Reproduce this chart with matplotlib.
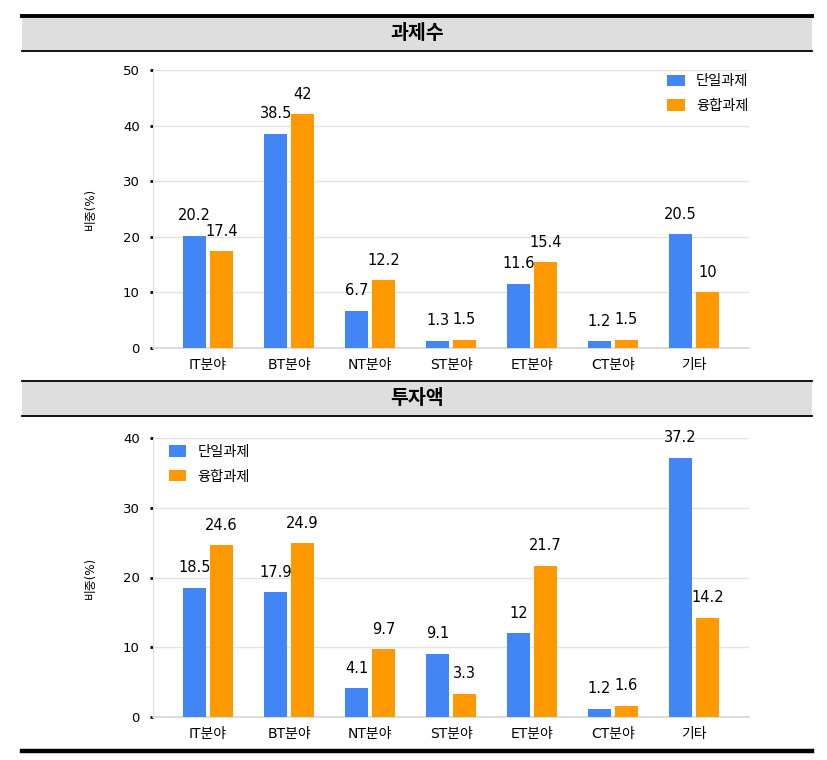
import numpy as np
import matplotlib
matplotlib.use("Agg")
import matplotlib.pyplot as plt
from matplotlib.patches import Rectangle
from matplotlib.lines import Line2D

plt.rcParams['font.family'] = ['DejaVu Sans', 'Noto Sans CJK KR']

categories = ['IT분야', 'BT분야', 'NT분야', 'ST분야', 'ET분야', 'CT분야', '기타']
series_names = ['단일과제', '융합과제']

# 과제수 (%)
count_single = [20.2, 38.5, 6.7, 1.3, 11.6, 1.2, 20.5]
count_fusion = [17.4, 42, 12.2, 1.5, 15.4, 1.5, 10]

# 투자액 (%)
invest_single = [18.5, 17.9, 4.1, 9.1, 12, 1.2, 37.2]
invest_fusion = [24.6, 24.9, 9.7, 3.3, 21.7, 1.6, 14.2]

blue = '#4285F4'
orange = '#FF9900'

W, H = 827, 760
fig = plt.figure(figsize=(W / 100, H / 100), dpi=100)


def fx(px):
    return px / W


def fy(py):
    return 1 - py / H


# -------------------------------------
# title bars and border lines
def title_bar(y_top, y_bot, text, top_lw):
    fig.patches.append(Rectangle((fx(22), fy(y_bot)), fx(812) - fx(22), fy(y_top) - fy(y_bot),
                                 transform=fig.transFigure, facecolor='#dedede', edgecolor='none'))
    fig.add_artist(Line2D([fx(22), fx(812)], [fy(y_top), fy(y_top)], color='black', lw=top_lw))
    fig.add_artist(Line2D([fx(22), fx(812)], [fy(y_bot), fy(y_bot)], color='black', lw=1.3))
    fig.text(fx(417), fy((y_top + y_bot) / 2), text, ha='center', va='center',
             fontsize=14, fontweight='bold', family=['Noto Sans CJK KR'])


title_bar(16, 51, '과제수', 2.8)
title_bar(381, 416, '투자액', 1.3)
fig.add_artist(Line2D([fx(22), fx(812)], [fy(751), fy(751)], color='black', lw=3.2))


# -------------------------------------
def draw_panel(rect, single, fusion, ymax, legend_anchor):
    ax = fig.add_axes(rect)
    x = np.arange(len(categories))
    b1 = ax.bar(x - 0.165, single, width=0.29, color=blue, label=series_names[0], zorder=3)
    b2 = ax.bar(x + 0.165, fusion, width=0.29, color=orange, label=series_names[1], zorder=3)

    for bars, vals in [(b1, single), (b2, fusion)]:
        for b, v in zip(bars, vals):
            ax.annotate(f'{v:g}', (b.get_x() + b.get_width() / 2, v), xytext=(0, 9),
                        textcoords='offset points', ha='center', va='bottom', fontsize=10.5)

    ax.set_xlim(-0.68, len(categories) - 1 + 0.68)
    ax.set_ylim(0, ymax)
    ax.set_yticks(np.arange(0, ymax + 1, 10))
    ax.set_xticks(x)
    ax.set_xticklabels(categories, fontsize=10)
    ax.tick_params(axis='x', length=0, pad=7)
    ax.tick_params(axis='y', length=2.5, width=2, color='black', pad=7, labelsize=9.5)
    ax.grid(axis='y', color='#e3e3e3', lw=1, zorder=0)
    for s in ['top', 'right']:
        ax.spines[s].set_visible(False)
    ax.spines['left'].set_color('#dcdcdc')
    ax.spines['bottom'].set_color('#d6d6d6')
    ax.spines['bottom'].set_linewidth(1.2)
    ax.set_ylabel('비중(%)', fontsize=8.5, labelpad=19)

    ax.legend(loc='upper left', bbox_to_anchor=legend_anchor, frameon=False, fontsize=10.3,
              handlelength=1.2, handleheight=0.85, handletextpad=0.8, labelspacing=0.75,
              borderpad=0, borderaxespad=0)
    return ax


draw_panel([fx(153), fy(348), fx(749) - fx(153), fy(70) - fy(348)],
           count_single, count_fusion, 50, (0.863, 0.985))
draw_panel([fx(153), fy(717), fx(749) - fx(153), fy(438) - fy(717)],
           invest_single, invest_fusion, 40, (0.027, 0.975))

plt.savefig('out.png', dpi=100)
